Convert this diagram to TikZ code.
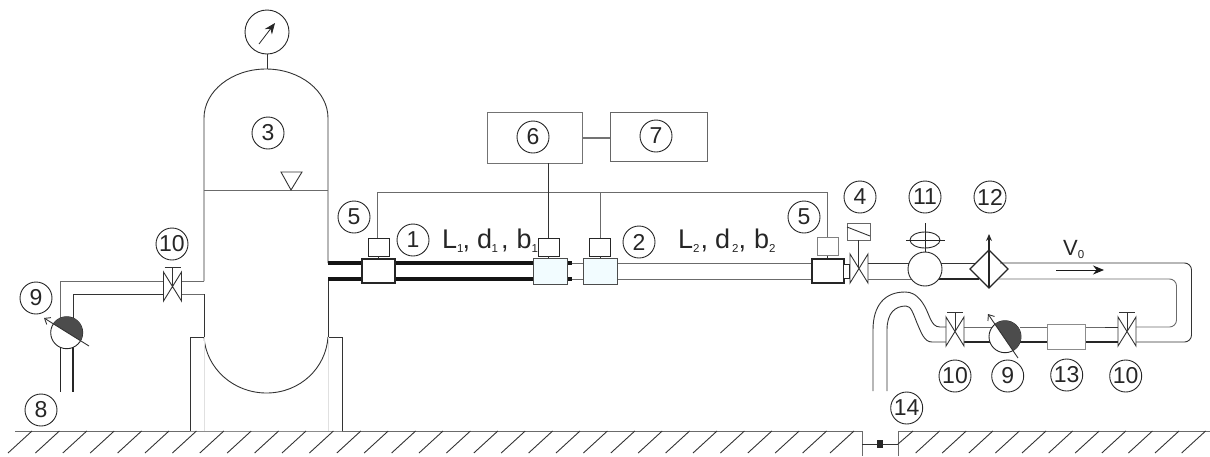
\documentclass[tikz,border=0pt]{standalone}
\usepackage{fontspec}
\setmainfont{Liberation Sans}
\usetikzlibrary{arrows.meta}
\newcommand\subt[1]{\raisebox{-4pt}{\fontsize{11.5}{12}\selectfont #1}}
\tikzset{
  x=1pt,y=-1pt,
  ln/.style={draw=black!80,line width=0.9pt},
  gy/.style={draw=black!58,line width=0.9pt},
  tube/.style={draw=black!92,line width=4.4pt},
  dk/.style={draw=black!85,line width=1.8pt},
  num/.style={circle,draw=black!85,line width=0.9pt,minimum size=32pt,inner sep=0pt,font=\fontsize{23}{25}\selectfont,text=black!85},
  bx/.style={rectangle,draw=black!70,line width=0.9pt,fill=white,inner sep=0pt},
  blubx/.style={bx,fill=blue!20!cyan!5},
  bigtxt/.style={anchor=base west,inner sep=0pt,font=\fontsize{27}{30}\selectfont,text=black!85},
  pics/valvesym/.style={code={
    \draw[ln,fill=white] (-9,-14.5) -- (9,14.5) -- (9,-14.5) -- (-9,14.5) -- cycle;
  }},
  pics/stemsym/.style={code={
    \draw[ln] (0,0) -- (0,-19.5);
    \draw[ln] (-8,-19.5) -- (8,-19.5);
    \draw[ln,fill=white] (-9,-14.5) -- (9,14.5) -- (9,-14.5) -- (-9,14.5) -- cycle;
  }}
}
\begin{document}
\begin{tikzpicture}
\useasboundingbox (0,0) rectangle (1210,456);
% ground
\draw[gy] (15,431) -- (190,431);
\draw[draw=black!45,line width=0.9pt] (190,431) -- (342,431);
\draw[gy] (342,431) -- (862,431) -- (862,456);
\draw[gy] (898,456) -- (898,431) -- (1210,431);
\draw[ln] (862,444) -- (898,444);
\fill[black!85] (877,440) rectangle (883,448);
\foreach \i in {0,...,30} {\draw[ln] ({32+27.4*\i},431) -- ++(-24,22);}
\draw[ln] (913,431) -- (898,444);
\foreach \i in {1,...,11} {\draw[ln] ({913+26.6*\i},431) -- ++(-24,22);}
% tank
\draw[ln] (328,263) -- (328,118) .. controls (328,91) and (300,69) .. (266,69)
  .. controls (232,69) and (204,91) .. (204,118) -- (204,281);
\draw[ln] (204,294) -- (204,337);
\draw[ln] (328,279) -- (328,337);
\draw[ln] (204,337) .. controls (206,368) and (233,393) .. (266.5,393)
  .. controls (300,393) and (326,368) .. (328,337);
\draw[gy] (204,190) -- (328,190);
\draw[ln] (281,172) -- (302,172) -- (291,190) -- cycle;
\draw[ln] (190,431) -- (190,337) -- (204,337);
\draw[ln] (328,337) -- (342,337) -- (342,431);
\draw[black!12,line width=0.8pt] (204,337) -- (204,431) (328,337) -- (328,431);
% gauge
\node[circle,draw=black!85,line width=0.9pt,minimum size=44pt,inner sep=0pt] (gauge) at (267,32) {};
\draw[ln] (gauge.south) -- (267,69);
\draw[line width=0.8pt,draw=black!85,-{Stealth[length=11pt,width=9pt]}] (259,44) -- (275,23);
% left pipework
\draw[gy] (204,281) -- (182,281);
\draw[gy] (204,294) -- (182,294);
\draw[gy] (163,281) -- (60.5,281) -- (60.5,320);
\draw[ln] (163,294) -- (73,294) -- (73,320);
\draw[dk,line width=1.2pt] (60.5,345) -- (60.5,392) (73,345) -- (73,392);
\pic at (172.5,286.5) {stemsym};
\node[circle,draw=black!85,line width=0.9pt,fill=white,minimum size=32pt,inner sep=0pt] (pumpa) at (66.7,332.7) {};
\begin{scope}
  \clip (44,318) -- (89,346) -- (117,301) -- (72,273) -- cycle;
  \fill[black!70] (66.7,332.7) circle[radius=16];
\end{scope}
\draw[ln,-{Straight Barb[length=5pt,width=8pt]}] (89,346) -- (44,318);
% thick pipes
\draw[tube] (328,263) -- (533,263) (328,279) -- (533,279);
\draw[tube] (567,263) -- (572,263) (567,279) -- (572,279);
\draw[gy,line width=0.8pt] (572,263) -- (583,263) (572,279) -- (583,279);
\draw[gy] (617,263) -- (812,263) (617,279) -- (812,279);
% sensors
\node[bx,draw=black!85,line width=1.1pt,minimum width=33pt,minimum height=24pt] (ma) at (378.5,271) {};
\node[blubx,minimum width=34pt,minimum height=26pt] (mb) at (550,271) {};
\node[blubx,minimum width=34pt,minimum height=26pt] (mc) at (600,271) {};
\node[bx,draw=black!85,line width=1.1pt,minimum width=32pt,minimum height=24pt] (md) at (828,271) {};
\node[bx,draw=black!85,minimum width=21pt,minimum height=18pt] (sa) at (378.5,247) {};
\node[bx,draw=black!85,minimum width=21pt,minimum height=18pt] (sb) at (548.5,247) {};
\node[bx,draw=black!85,minimum width=21pt,minimum height=18pt] (sc) at (600,247) {};
\node[bx,draw=black!50,minimum width=21pt,minimum height=18pt] (sd) at (827.5,246.5) {};
\foreach \s/\m in {sa/ma,sb/mb,sc/mc,sd/md} {\draw[ln] (\s.south) -- (\s.south |- \m.north);}
% boxes 6,7 and signal lines
\node[bx,draw=black!55,minimum width=95pt,minimum height=51pt] (b6) at (534.5,137.5) {};
\node[bx,draw=black!60,minimum width=97pt,minimum height=49pt] (b7) at (658.5,136.5) {};
\draw[draw=black!55,line width=1.2pt] (b6.east |- 0,138) -- (b7.west |- 0,138);
\coordinate (busl) at (377.5,192);
\coordinate (busr) at (827.5,192);
\draw[gy] (sa.north -| busl) -- (busl) -- (busr) -- (sd.north);
\draw[ln] (b6.south -| sb.north) -- (sb.north);
\draw[gy] (sc.north |- busl) -- (sc.north);
% control valve 4
\node[bx,fill=white,draw=black!85,line width=0.8pt,minimum width=6pt,minimum height=14pt] (stub) at (846.5,271) {};
\draw[draw=black!60,line width=0.9pt] (847,223) rectangle (870,240);
\draw[ln] (847,227) -- (870,236);
\draw[ln] (858.5,240) -- (858.5,268.5);
\pic at (859,268.5) {valvesym};
% pipe on to 11 and 12
\draw[ln] (868,263) -- (909,263);
\draw[gy] (868,279) -- (912,279);
\draw[ln] (941,263) -- (979,263);
\draw[dk,line width=1.5pt] (937,279) -- (979,279);
\node[circle,draw=black!85,line width=0.9pt,fill=white,minimum size=34pt,inner sep=0pt] (c11) at (925,269) {};
\draw[draw=black!85,line width=0.9pt] (925,240) ellipse[x radius=15,y radius=8];
\draw[draw=black!85,line width=0.9pt] (906,240) -- (945,240) (925,223) -- (c11.north);
\draw[draw=black!85,line width=1.2pt,fill=white] (989,250) -- (1008,269) -- (989,288) -- (970,269) -- cycle;
\draw[draw=black!85,line width=1.2pt,-{Stealth[length=7pt,width=6pt]}] (989,288) -- (989,234);
% long return pipe
\draw[ln,rounded corners=7pt] (1000,263) -- (1191.5,263) -- (1191.5,342) -- (1136,342);
\draw[gy,rounded corners=7pt] (998,279) -- (1176.5,279) -- (1176.5,327) -- (1136,327);
\draw[gy] (1085,327) -- (1118,327);
\draw[ln] (1105,327) -- (1118,327);
\draw[dk,line width=1.4pt] (1085,342) -- (1118,342);
\pic at (1127,331.5) {stemsym};
\node[bx,draw=black!45,minimum width=38pt,minimum height=25pt] (b13) at (1066,336.5) {};
\draw[gy] (1020,327) -- (1047,327);
\draw[dk,line width=1.4pt] (1020,342) -- (1047,342);
\draw[gy] (964,327) -- (995,327);
\draw[dk,line width=1.4pt] (964,342) -- (990,342);
\pic at (955,331.5) {stemsym};
\node[circle,draw=black!85,line width=0.9pt,fill=white,minimum size=32pt,inner sep=0pt] (pumpb) at (1005,336.7) {};
\begin{scope}
  \clip (988,314) -- (1018,358) -- (1062,328) -- (1032,284) -- cycle;
  \fill[black!70] (1005,336.7) circle[radius=16];
\end{scope}
\draw[ln,-{Straight Barb[length=5pt,width=8pt]}] (1018,358) -- (988,314);
% outlet bend
\draw[ln] (946,327) -- (940,327) .. controls (930,327) and (930,313) .. (922,302)
  .. controls (916,294) and (911,292) .. (905,292)
  .. controls (885,292) and (873,305) .. (873,330) -- (873,391);
\draw[ln] (946,342) -- (932,342) .. controls (924,342) and (921,332) .. (917,323)
  .. controls (913,313) and (911,306) .. (906,306)
  .. controls (895,306) and (887,313) .. (887,330) -- (887,391);
% flow arrow
\draw[draw=black!90,line width=0.9pt,-{Stealth[length=11pt,width=9pt]}] (1056,270) -- (1104,270);
% texts
\node[bigtxt] (t1) at (442,248) {L\subt{1}\kern-1pt,\kern7pt d\kern-0.5pt\subt{1}\kern3pt,\kern8pt b\subt{1}};
\node[bigtxt] (t2) at (678,248) {L\subt{2}\kern1pt,\kern7pt d\kern2pt\subt{2},\kern8pt b\subt{2}};
\node[anchor=base west,inner sep=0pt,font=\fontsize{22}{24}\selectfont,text=black!85] (v0) at (1063,255) {V\raisebox{1pt}{\subt{0}}};
% numbered circles
\node[num] (n1) at (413,240) {1};
\node[num] (n2) at (639,242) {2};
\node[num] (n3) at (268,133) {3};
\node[num] (n4) at (860,197) {4};
\node[num] (n5a) at (354,217) {5};
\node[num] (n5b) at (804,217) {5};
\node[num] (n6) at (533,137) {6};
\node[num] (n7) at (656,136) {7};
\node[num] (n8) at (41,410) {8};
\node[num] (n9a) at (36,298) {9};
\node[num] (n9b) at (1007.7,376) {9};
\node[num] (n10a) at (172,244) {10};
\node[num] (n10b) at (955,376) {10};
\node[num] (n10c) at (1125.7,376) {10};
\node[num] (n11) at (925,197) {11};
\node[num] (n12) at (990,197) {12};
\node[num] (n13) at (1066.7,375) {13};
\node[num] (n14) at (906.7,408) {14};
\end{tikzpicture}
\end{document}
